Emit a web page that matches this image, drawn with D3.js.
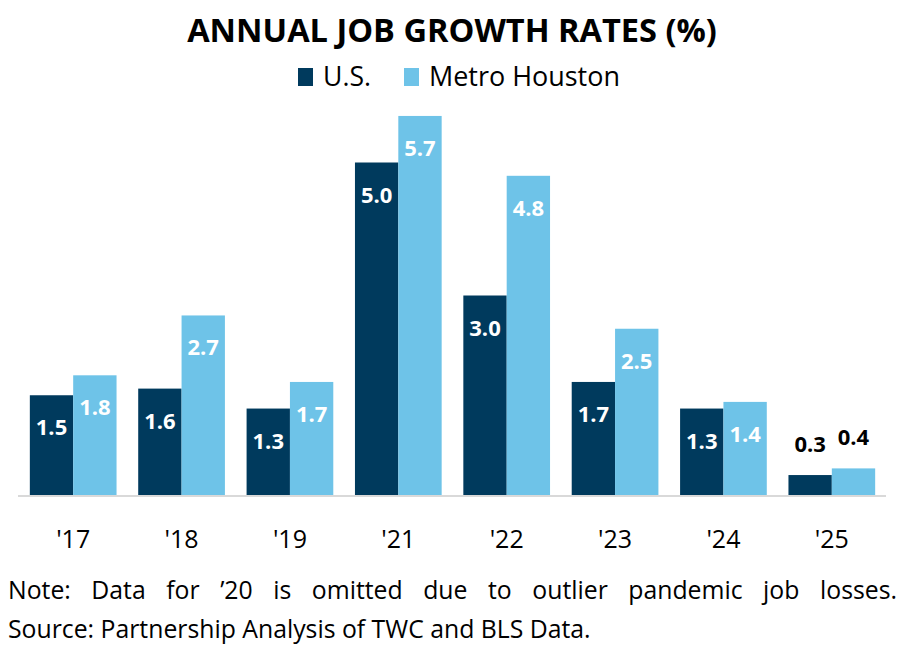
<!DOCTYPE html>
<html>
<head>
<meta charset="utf-8">
<script src="https://cdn.jsdelivr.net/npm/d3@7"></script>
<style>
  body { margin: 0; background: #fff; }
  text { font-family: "Open Sans", Lato, sans-serif; }
</style>
</head>
<body>
<svg id="chart" width="905" height="650"></svg>
<script>
var years = ["'17", "'18", "'19", "'21", "'22", "'23", "'24", "'25"];
var usRates = [1.5, 1.6, 1.3, 5.0, 3.0, 1.7, 1.3, 0.3];
var houstonRates = [1.8, 2.7, 1.7, 5.7, 4.8, 2.5, 1.4, 0.4];
var seriesNames = ["U.S.", "Metro Houston"];
var seriesColors = ["#003a5d", "#6ec3e8"];

var svg = d3.select("#chart");

// shrink/grow font so a text spans the given width
function fitWidth(sel, w) {
    var size = parseFloat(sel.style("font-size"));
    var len = sel.node().getComputedTextLength();
    sel.style("font-size", (size * w / len) + "px");
}

var xScale = d3.scaleBand()
    .domain(years)
    .range([19, 886])
    .paddingInner(0.2)
    .paddingOuter(0.1);
var xInner = d3.scaleBand()
    .domain(seriesNames)
    .range([0, xScale.bandwidth()]);
var yScale = d3.scaleLinear()
    .domain([0, 6])
    .range([495, 96]);

var rows = years.map(function(y, i) {
    return {year: y, values: [usRates[i], houstonRates[i]]};
});

// title
var title = svg.append("text")
    .attr("x", 452).attr("y", 42)
    .attr("text-anchor", "middle")
    .style("font-size", "30px").style("font-weight", "bold")
    .text("ANNUAL JOB GROWTH RATES (%)");
fitWidth(title, 530);

// legend
var legendX = [298, 404];
var legendW = [48, 191];
seriesNames.forEach(function(name, i) {
    svg.append("rect")
        .attr("x", legendX[i]).attr("y", 68)
        .attr("width", 15).attr("height", 18)
        .attr("fill", seriesColors[i]);
    var t = svg.append("text")
        .attr("x", legendX[i] + 25).attr("y", 86)
        .style("font-size", "24px")
        .text(name);
    fitWidth(t, legendW[i]);
});

// bars
var groups = svg.selectAll("g.grp")
    .data(rows)
    .enter()
    .append("g")
    .attr("class", "grp")
    .attr("transform", function(d) { return "translate(" + xScale(d.year) + ",0)"; });

groups.selectAll("rect")
    .data(function(d) { return d.values.map(function(v, i) { return {v: v, s: i}; }); })
    .enter()
    .append("rect")
    .attr("x", function(d) { return xInner(seriesNames[d.s]); })
    .attr("y", function(d) { return yScale(d.v); })
    .attr("width", xInner.bandwidth())
    .attr("height", function(d) { return yScale(0) - yScale(d.v); })
    .attr("fill", function(d) { return seriesColors[d.s]; });

groups.selectAll("text.val")
    .data(function(d) { return d.values.map(function(v, i) { return {v: v, s: i}; }); })
    .enter()
    .append("text")
    .attr("class", "val")
    .attr("x", function(d) { return xInner(seriesNames[d.s]) + xInner.bandwidth() / 2; })
    .attr("y", function(d) {
        return d.v < 1 ? yScale(d.v) - 23 : yScale(d.v) + 40;
    })
    .attr("text-anchor", "middle")
    .style("font-size", "22px").style("font-weight", "bold")
    .attr("fill", function(d) { return d.v < 1 ? "#000" : "#fff"; })
    .text(function(d) { return d.v.toFixed(1); });

// axis line
svg.append("line")
    .attr("x1", 18).attr("x2", 886)
    .attr("y1", 496).attr("y2", 496)
    .attr("stroke", "#d9d9d9").attr("stroke-width", 2);

// category labels
svg.selectAll("text.cat")
    .data(years)
    .enter()
    .append("text")
    .attr("class", "cat")
    .attr("x", function(d) { return xScale(d) + xScale.bandwidth() / 2; })
    .attr("y", 548)
    .attr("text-anchor", "middle")
    .style("font-size", "25px")
    .text(function(d) { return d; });

// notes
var src = svg.append("text")
    .attr("x", 8).attr("y", 638)
    .style("font-size", "24px")
    .text("Source: Partnership Analysis of TWC and BLS Data.");
fitWidth(src, 583);

var noteText = "Note: Data for \u201920 is omitted due to outlier pandemic job losses.";
var note = svg.append("text")
    .attr("x", 8).attr("y", 599)
    .style("font-size", src.style("font-size"))
    .text(noteText);
var gaps = noteText.split(" ").length - 1;
var extra = (889 - note.node().getComputedTextLength()) / gaps;
note.style("word-spacing", extra + "px");
</script>
</body>
</html>
